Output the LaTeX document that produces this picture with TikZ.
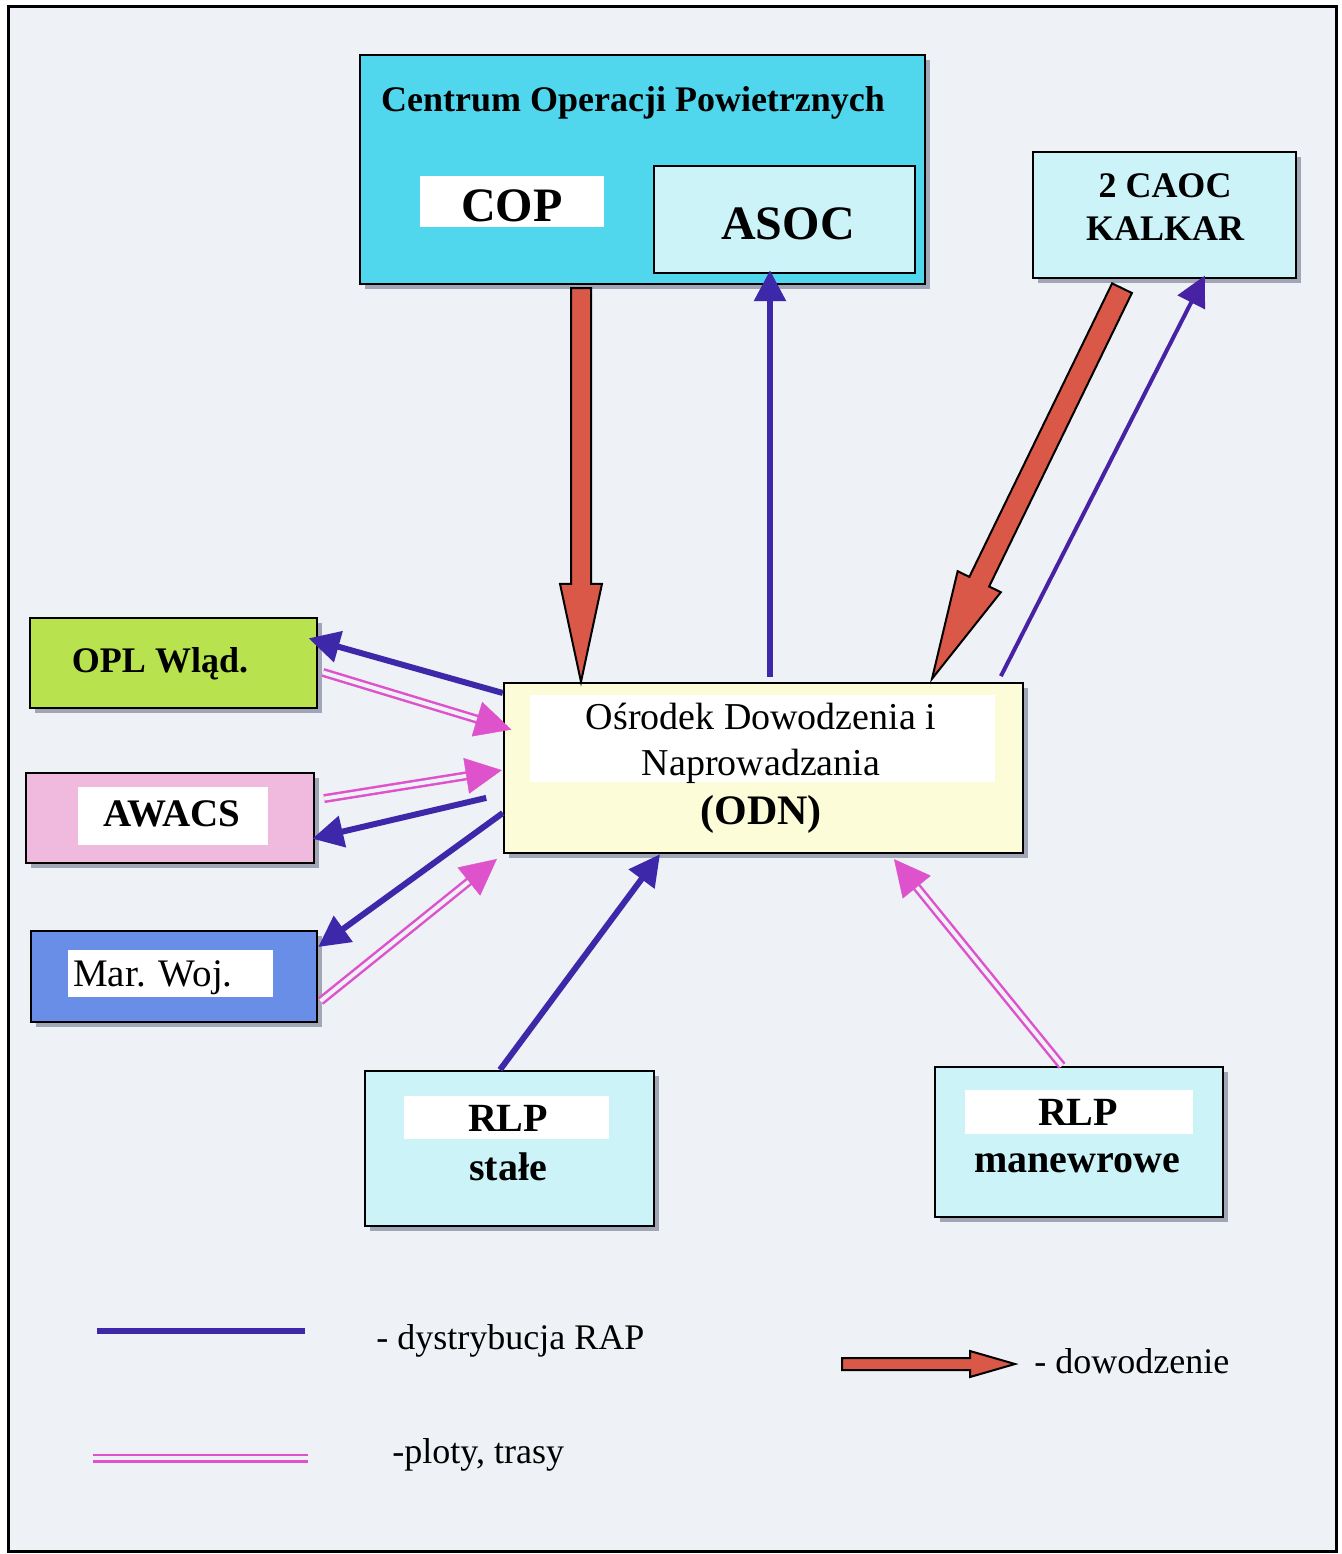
\documentclass[tikz,border=0pt]{standalone}
\usepackage{fontspec}
\setmainfont{Liberation Serif}
\usetikzlibrary{calc,arrows.meta}

\definecolor{paper}{RGB}{238,241,245}
\definecolor{copcyan}{RGB}{80,215,238}
\definecolor{palecyan}{RGB}{204,244,248}
\definecolor{oplgreen}{RGB}{184,226,78}
\definecolor{awpink}{RGB}{240,186,222}
\definecolor{marblue}{RGB}{104,142,232}
\definecolor{odnyellow}{RGB}{252,252,216}
\definecolor{rapblue}{RGB}{62,40,170}
\definecolor{plotpink}{RGB}{222,82,204}
\definecolor{cmdred}{RGB}{218,88,72}
\definecolor{shade}{RGB}{160,166,182}

% thick outlined command arrow: start, end, shaft half-width, head half-width, head length
\newcommand{\cmdarrow}[5]{%
  \coordinate (ah) at ($(#2)!#5!(#1)$);
  \filldraw[cmd] ($(#1)!#3!90:(#2)$) -- ($(ah)!#3!-90:(#1)$) -- ($(ah)!#4!-90:(#1)$)
    -- (#2) -- ($(ah)!#4!90:(#1)$) -- ($(ah)!#3!90:(#1)$) -- ($(#1)!#3!-90:(#2)$) -- cycle;}

% double pink line with a solid triangular head
% start, end, shorten at start, shorten at end (negative extends)
\newcommand{\plotline}[4]{%
  \coordinate (pe) at ($(#2)!#4!(#1)$);
  \draw[plot, shorten <=#3, shorten >=17pt] (#1) -- (pe);
  \draw[plottip] ($(pe)!18pt!(#1)$) -- (pe);}

\begin{document}
\begin{tikzpicture}[x=0.5pt,y=0.5pt,
  org/.style={draw=black, line width=1.2pt, inner sep=0pt,
    preaction={fill=shade, transform canvas={xshift=2.5pt,yshift=-2.5pt}}},
  inner/.style={draw=black, line width=1.2pt, inner sep=0pt},
  tag/.style={fill=white, draw=none, inner sep=0pt},
  txt/.style={anchor=base, inner sep=0pt, font=\fontsize{18}{21}\selectfont},
  btxt/.style={txt, font=\fontsize{18}{21}\selectfont\bfseries},
  rap/.style={rapblue, line width=3pt, -{Triangle[length=15.5pt,width=15.5pt]}},
  rapthin/.style={rapblue!85!violet, line width=2pt, -{Triangle[length=15pt,width=15pt]}},
  plot/.style={plotpink, line width=1.25pt, double=paper, double distance=2pt},
  plottip/.style={plotpink, line width=0.2pt, -{Triangle[length=18pt,width=18pt]}},
  cmd/.style={fill=cmdred, draw=black, line width=1pt, line join=miter}]

% page and frame
\path[fill=white] (0,0) rectangle (1341,-1554);
\useasboundingbox (0,0) rectangle (1341,-1554);
\draw[fill=paper, line width=1.5pt] (8,-6) rectangle (1336,-1551);

% Centrum Operacji Powietrznych
\node[org, fill=copcyan, minimum width=282.5pt, minimum height=114.5pt] (cop) at (642.5,-169.5) {};
\node[btxt] (coptitle) at (633,-111) {Centrum Operacji Powietrznych};
\node[tag, minimum width=92pt, minimum height=25.5pt] (coptag) at (512,-201.5) {};
\node[btxt, font=\fontsize{24}{28}\selectfont\bfseries] (coptxt) at (512,-221) {COP};
\node[inner, fill=palecyan, minimum width=130.5pt, minimum height=53.5pt] (asoc) at (784.5,-219.5) {};
\node[btxt, font=\fontsize{24}{28}\selectfont\bfseries] (asoctxt) at (788,-239) {ASOC};

% 2 CAOC
\node[org, fill=palecyan, minimum width=131.5pt, minimum height=63pt] (caoc) at (1164.5,-215) {};
\node[btxt] (caoc1) at (1165,-197) {2 CAOC};
\node[btxt] (caoc2) at (1165,-240) {KALKAR};

% left-hand users
\node[org, fill=oplgreen, minimum width=143.5pt, minimum height=45pt] (opl) at (173.5,-663) {};
\node[btxt] (opltxt) at (160,-672) {OPL Wląd.};

\node[org, fill=awpink, minimum width=144pt, minimum height=45pt] (awacs) at (170,-818) {};
\node[tag, minimum width=95pt, minimum height=29pt] (awacstag) at (173,-816) {};
\node[btxt, font=\fontsize{19.5}{23}\selectfont\bfseries] (awacstxt) at (172,-826) {AWACS};

\node[org, fill=marblue, minimum width=143pt, minimum height=45.5pt] (mar) at (174,-976.5) {};
\node[tag, minimum width=102.5pt, minimum height=23.5pt] (martag) at (170.5,-973.5) {};
\node[txt, font=\fontsize{19.5}{23}\selectfont] (martxt) at (153,-986) {Mar. Woj.};

% ODN
\node[org, fill=odnyellow, minimum width=259.5pt, minimum height=85pt] (odn) at (763.5,-768) {};
\node[tag, minimum width=232.5pt, minimum height=43.5pt] (odntag) at (762.5,-738.5) {};
\node[txt, font=\fontsize{19}{23}\selectfont] (odn1) at (761,-729) {Ośrodek Dowodzenia i};
\node[txt, font=\fontsize{19}{23}\selectfont] (odn2) at (761,-775) {Naprowadzania};
\node[btxt, font=\fontsize{21}{25}\selectfont\bfseries] (odn3) at (761,-824) {(ODN)};

% radar posts
\node[org, fill=palecyan, minimum width=144.5pt, minimum height=77.5pt] (rlps) at (509.5,-1148.5) {};
\node[tag, minimum width=102.5pt, minimum height=21.5pt] (rlpstag) at (506.5,-1117.5) {};
\node[btxt, font=\fontsize{20}{24}\selectfont\bfseries] (rlps1) at (508,-1131) {RLP};
\node[btxt, font=\fontsize{20}{24}\selectfont\bfseries] (rlps2) at (508,-1180) {stałe};

\node[org, fill=palecyan, minimum width=144pt, minimum height=75pt] (rlpm) at (1079,-1142) {};
\node[tag, minimum width=114pt, minimum height=22pt] (rlpmtag) at (1079,-1112) {};
\node[btxt, font=\fontsize{20}{24}\selectfont\bfseries] (rlpm1) at (1078,-1125) {RLP};
\node[btxt, font=\fontsize{20}{24}\selectfont\bfseries] (rlpm2) at (1077,-1172) {manewrowe};

% command arrows
\coordinate (c1a) at ($(581,0 |- cop.south)+(0,-3)$);
\coordinate (c1b) at (581,0 |- odn.north);
\cmdarrow{c1a}{c1b}{5pt}{10.5pt}{49pt}
\coordinate (c2a) at ($(1122,0 |- caoc.south)+(0,-9)$);
\coordinate (c2b) at ($(932,0 |- odn.north)+(0,3)$);
\cmdarrow{c2a}{c2b}{5.5pt}{12pt}{54pt}

% RAP distribution
\draw[rap, shorten <=2.5pt, shorten >=-2pt] (770,0 |- odn.north) -- (770,0 |- asoc.south);
\draw[rapthin, shorten <=3.2pt, shorten >=-2pt] (998,0 |- odn.north) -- (1203,0 |- caoc.south);
\draw[rap, shorten >=-5pt] (odn.west |- 0,-693) -- (opl.east |- 0,-641);
\draw[rap, shorten <=8.5pt, shorten >=-1.5pt] (odn.west |- 0,-794) -- (awacs.east |- 0,-838);
\draw[rap] (odn.west |- 0,-813) -- (mar.east |- 0,-947);
\draw[rap] (500,0 |- rlps.north) -- (660,0 |- odn.south);

% plots and tracks
\coordinate (p1a) at (opl.east |- 0,-671);
\coordinate (p1b) at (odn.west |- 0,-727);
\plotline{p1a}{p1b}{2.5pt}{-4.5pt}
\coordinate (p2a) at (awacs.east |- 0,-800);
\coordinate (p2b) at (odn.west |- 0,-770);
\plotline{p2a}{p2b}{4.5pt}{0.5pt}
\coordinate (p3a) at (mar.east |- 0,-1003);
\coordinate (p3b) at (odn.south west);
\plotline{p3a}{p3b}{1.5pt}{3.8pt}
\coordinate (p4a) at (1062,0 |- rlpm.north);
\coordinate (p4b) at (890,0 |- odn.south);
\plotline{p4a}{p4b}{0pt}{3.2pt}

% legend
\coordinate (l1a) at (97,-1331);
\coordinate (l1b) at (305,-1331);
\draw[rapblue, line width=3pt] (l1a) -- (l1b);
\node[txt, anchor=base west] (l1t) at (376,-1349) {- dystrybucja RAP};
\coordinate (l2a) at (93,-1458);
\coordinate (l2b) at (308,-1458);
\draw[plot] (l2a) -- (l2b);
\node[txt, anchor=base west] (l2t) at (392,-1463) {-ploty, trasy};
\coordinate (l3a) at (842,-1364);
\coordinate (l3b) at (1015,-1364);
\cmdarrow{l3a}{l3b}{3pt}{6.5pt}{22.5pt}
\node[txt, anchor=base west] (l3t) at (1034,-1373) {- dowodzenie};
\end{tikzpicture}
\end{document}
